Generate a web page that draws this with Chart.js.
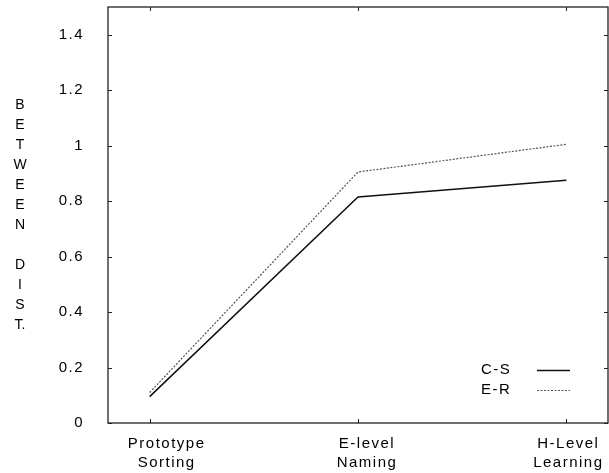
<!DOCTYPE html>
<html>
<head>
<meta charset="utf-8">
<script src="https://cdn.jsdelivr.net/npm/chart.js@4/dist/chart.umd.min.js"></script>
<style>
  html, body { margin: 0; padding: 0; background: #fff; }
  #wrap { width: 609px; height: 473px; position: relative; }
</style>
</head>
<body>
<div id="wrap"><canvas id="chart"></canvas></div>
<script>
// Dados
const categories = [['Prototype', 'Sorting'], ['E-level', 'Naming'], ['H-Level', 'Learning']];
const csValues = [0.095, 0.815, 0.875];
const erValues = [0.11, 0.905, 1.005];
const yTicks = [0, 0.2, 0.4, 0.6, 0.8, 1, 1.2, 1.4];
const yTitle = ['B', 'E', 'T', 'W', 'E', 'E', 'N', '', 'D', 'I', 'S', 'T.'];

const FONT = "'Liberation Sans', Arial, sans-serif";
const labelShift = [16, 8, 1]; // deslocamento dos rótulos do eixo X

const toPoints = vals => vals.map((v, i) => ({ x: i, y: v }));

const framePlugin = {
    id: 'frame',
    beforeDraw(chart) {
        chart.ctx.letterSpacing = '1.5px';
    },
    afterDraw(chart) {
        const { ctx, chartArea: a, scales } = chart;
        ctx.save();
        ctx.letterSpacing = '1.5px';

        // moldura e marcas para dentro
        ctx.strokeStyle = '#222';
        ctx.lineWidth = 1.3;
        ctx.strokeRect(a.left, a.top, a.right - a.left, a.bottom - a.top);
        ctx.lineWidth = 1;
        yTicks.forEach(t => {
            const y = Math.round(scales.y.getPixelForValue(t)) + 0.5;
            ctx.beginPath();
            ctx.moveTo(a.left, y); ctx.lineTo(a.left + 4, y);
            ctx.moveTo(a.right, y); ctx.lineTo(a.right - 4, y);
            ctx.stroke();
        });
        categories.forEach((c, i) => {
            const x = Math.round(scales.x.getPixelForValue(i)) + 0.5;
            ctx.beginPath();
            ctx.moveTo(x, a.bottom); ctx.lineTo(x, a.bottom - 4);
            ctx.moveTo(x, a.top); ctx.lineTo(x, a.top + 4);
            ctx.stroke();
        });

        // rótulos do eixo X
        ctx.fillStyle = '#000';
        ctx.font = '15px ' + FONT;
        ctx.textAlign = 'center';
        ctx.textBaseline = 'alphabetic';
        categories.forEach((lines, i) => {
            const x = scales.x.getPixelForValue(i) + labelShift[i] + 1;
            lines.forEach((txt, j) => ctx.fillText(txt, x, a.bottom + 25 + j * 19));
        });

        // título vertical do eixo Y
        ctx.font = '14px ' + FONT;
        ctx.letterSpacing = '0px';
        ctx.textBaseline = 'middle';
        yTitle.forEach((ch, i) => ctx.fillText(ch, 20, 105 + i * 20));

        // legenda
        ctx.font = '15px ' + FONT;
        ctx.letterSpacing = '1.5px';
        ctx.textAlign = 'left';
        chart.data.datasets.forEach((ds, i) => {
            const y = a.bottom - 53 + i * 20;
            ctx.fillStyle = '#000';
            ctx.fillText(ds.label, a.right - 127, y);
            ctx.strokeStyle = ds.borderColor;
            ctx.lineWidth = ds.borderWidth;
            ctx.setLineDash(ds.borderDash || []);
            ctx.beginPath();
            ctx.moveTo(a.right - 71, y + 0.5);
            ctx.lineTo(a.right - 38, y + 0.5);
            ctx.stroke();
            ctx.setLineDash([]);
        });
        ctx.restore();
    }
};

new Chart(document.getElementById('chart'), {
    type: 'line',
    data: {
        datasets: [{
            label: 'C-S',
            data: toPoints(csValues),
            borderColor: '#111',
            borderWidth: 1.5,
            pointRadius: 0,
            tension: 0
        }, {
            label: 'E-R',
            data: toPoints(erValues),
            borderColor: '#555',
            borderWidth: 1.2,
            borderDash: [2, 1.5],
            pointRadius: 0,
            tension: 0
        }]
    },
    options: {
        responsive: true,
        maintainAspectRatio: false,
        animation: false,
        layout: { padding: { top: 7, right: 1, left: 0, bottom: 0 } },
        plugins: { legend: { display: false }, tooltip: { enabled: false } },
        scales: {
            x: {
                type: 'linear',
                min: -0.2,
                max: 2.2,
                grid: { display: false },
                border: { display: false },
                afterBuildTicks: s => { s.ticks = categories.map((c, i) => ({ value: i })); },
                afterFit: s => { s.height = 50; s.paddingLeft = 0; s.paddingRight = 0; },
                ticks: { display: false }
            },
            y: {
                min: 0,
                max: 1.5,
                grid: { display: false },
                border: { display: false },
                afterBuildTicks: s => { s.ticks = yTicks.map(v => ({ value: v })); },
                afterFit: s => { s.width = 108; s.paddingTop = 0; s.paddingBottom = 0; },
                ticks: {
                    padding: 16,
                    color: '#000',
                    font: { family: FONT, size: 15 },
                    callback: v => String(Math.round(v * 10) / 10)
                }
            }
        }
    },
    plugins: [framePlugin]
});
</script>
</body>
</html>
